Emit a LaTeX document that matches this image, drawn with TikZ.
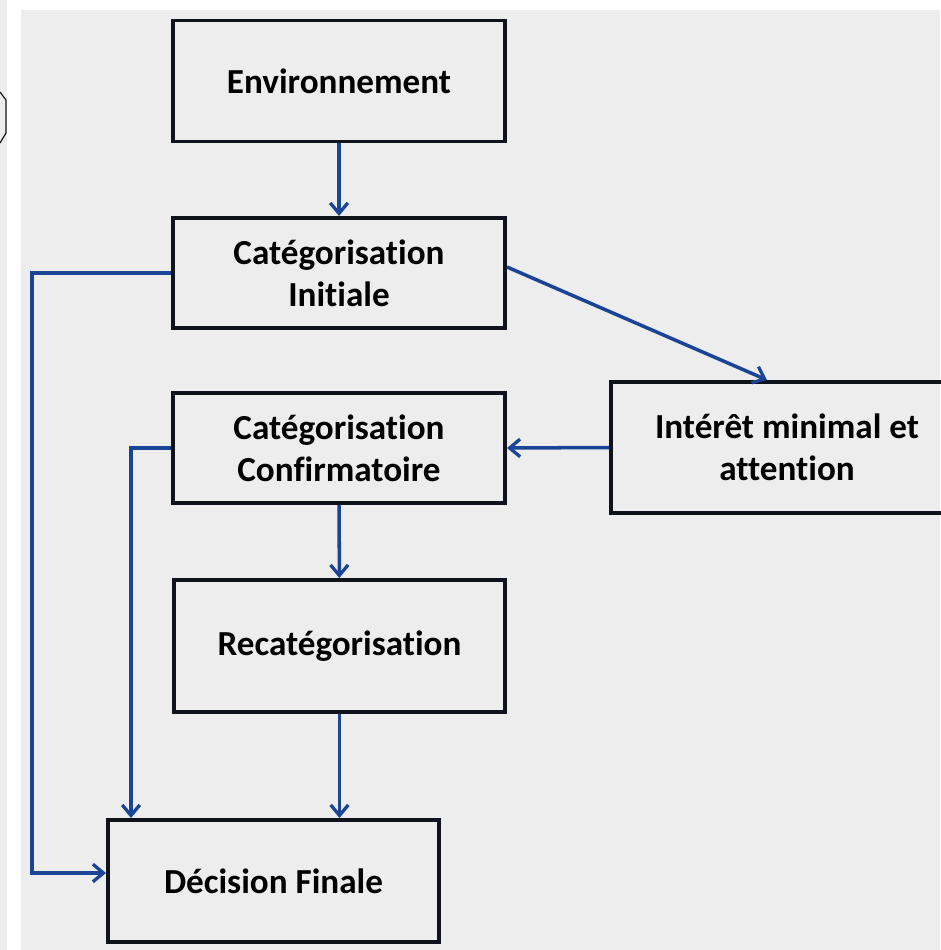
\documentclass[tikz,border=0pt]{standalone}
\usepackage{fontspec}
\setmainfont{Carlito}[Ligatures=NoCommon]
\usetikzlibrary{arrows.meta}
\definecolor{panelgray}{HTML}{EDEDED}
\definecolor{linkblue}{HTML}{1C4496}
\definecolor{boxline}{HTML}{11131C}
\begin{document}
\begin{tikzpicture}[
        x=0.03cm, y=-0.03cm,
        stage/.style={rectangle, draw=boxline, line width=3.4pt, align=center,
            font=\fontsize{30}{36}\selectfont\bfseries, inner sep=0pt},
        link/.style={-{Straight Barb[length=9pt, width=15pt, line width=2.8pt]}, draw=linkblue, line width=3pt}
    ]
        % Background
        \useasboundingbox (0,0) rectangle (940,950);
        \fill[white] (0,0) rectangle (940,950);
        \fill[panelgray] (0,0) rectangle (7,950);
        \fill[panelgray] (21,10) rectangle (940,950);
        \draw[boxline, line width=1pt] (0,92) -- (6,100) -- (6,133) -- (0,143);

        % Boxes
        \node[stage, minimum width=9.96cm, minimum height=3.63cm] (env) at (339,81) {Environnement};
        \node[stage, minimum width=9.96cm, minimum height=3.3cm] (init) at (339,273) {Catégorisation\\Initiale};
        \node[stage, minimum width=9.96cm, minimum height=3.3cm] (conf) at (339,448) {Catégorisation\\Confirmatoire};
        \node[stage, minimum width=9.93cm, minimum height=3.96cm] (recat) at (339.5,646) {Recatégorisation};
        \node[stage, minimum width=9.93cm, minimum height=3.66cm] (dec) at (273.5,881) {Décision Finale};
        \node[stage, minimum width=10.56cm, minimum height=3.93cm] (int) at (787,447.5) {Intérêt minimal et\\attention};

        % Connectors
        \coordinate (loopA) at (32,873);
        \coordinate (loopB) at (131,448);
        \draw[link] (env) -- (init);
        \draw[link] (init.west) -| (loopA) -- (loopA -| dec.west);
        \draw[link] (conf.west) -| (loopB |- dec.north);
        \draw[link] (conf) -- (recat);
        \draw[link] (recat.south) -- (recat.south |- dec.north);
        \draw[link] ([yshift=0.18cm]init.east) -- ([xshift=-0.6cm]int.north);
        \draw[link] (int.west) -- (conf.east);
    \end{tikzpicture}
\end{document}
